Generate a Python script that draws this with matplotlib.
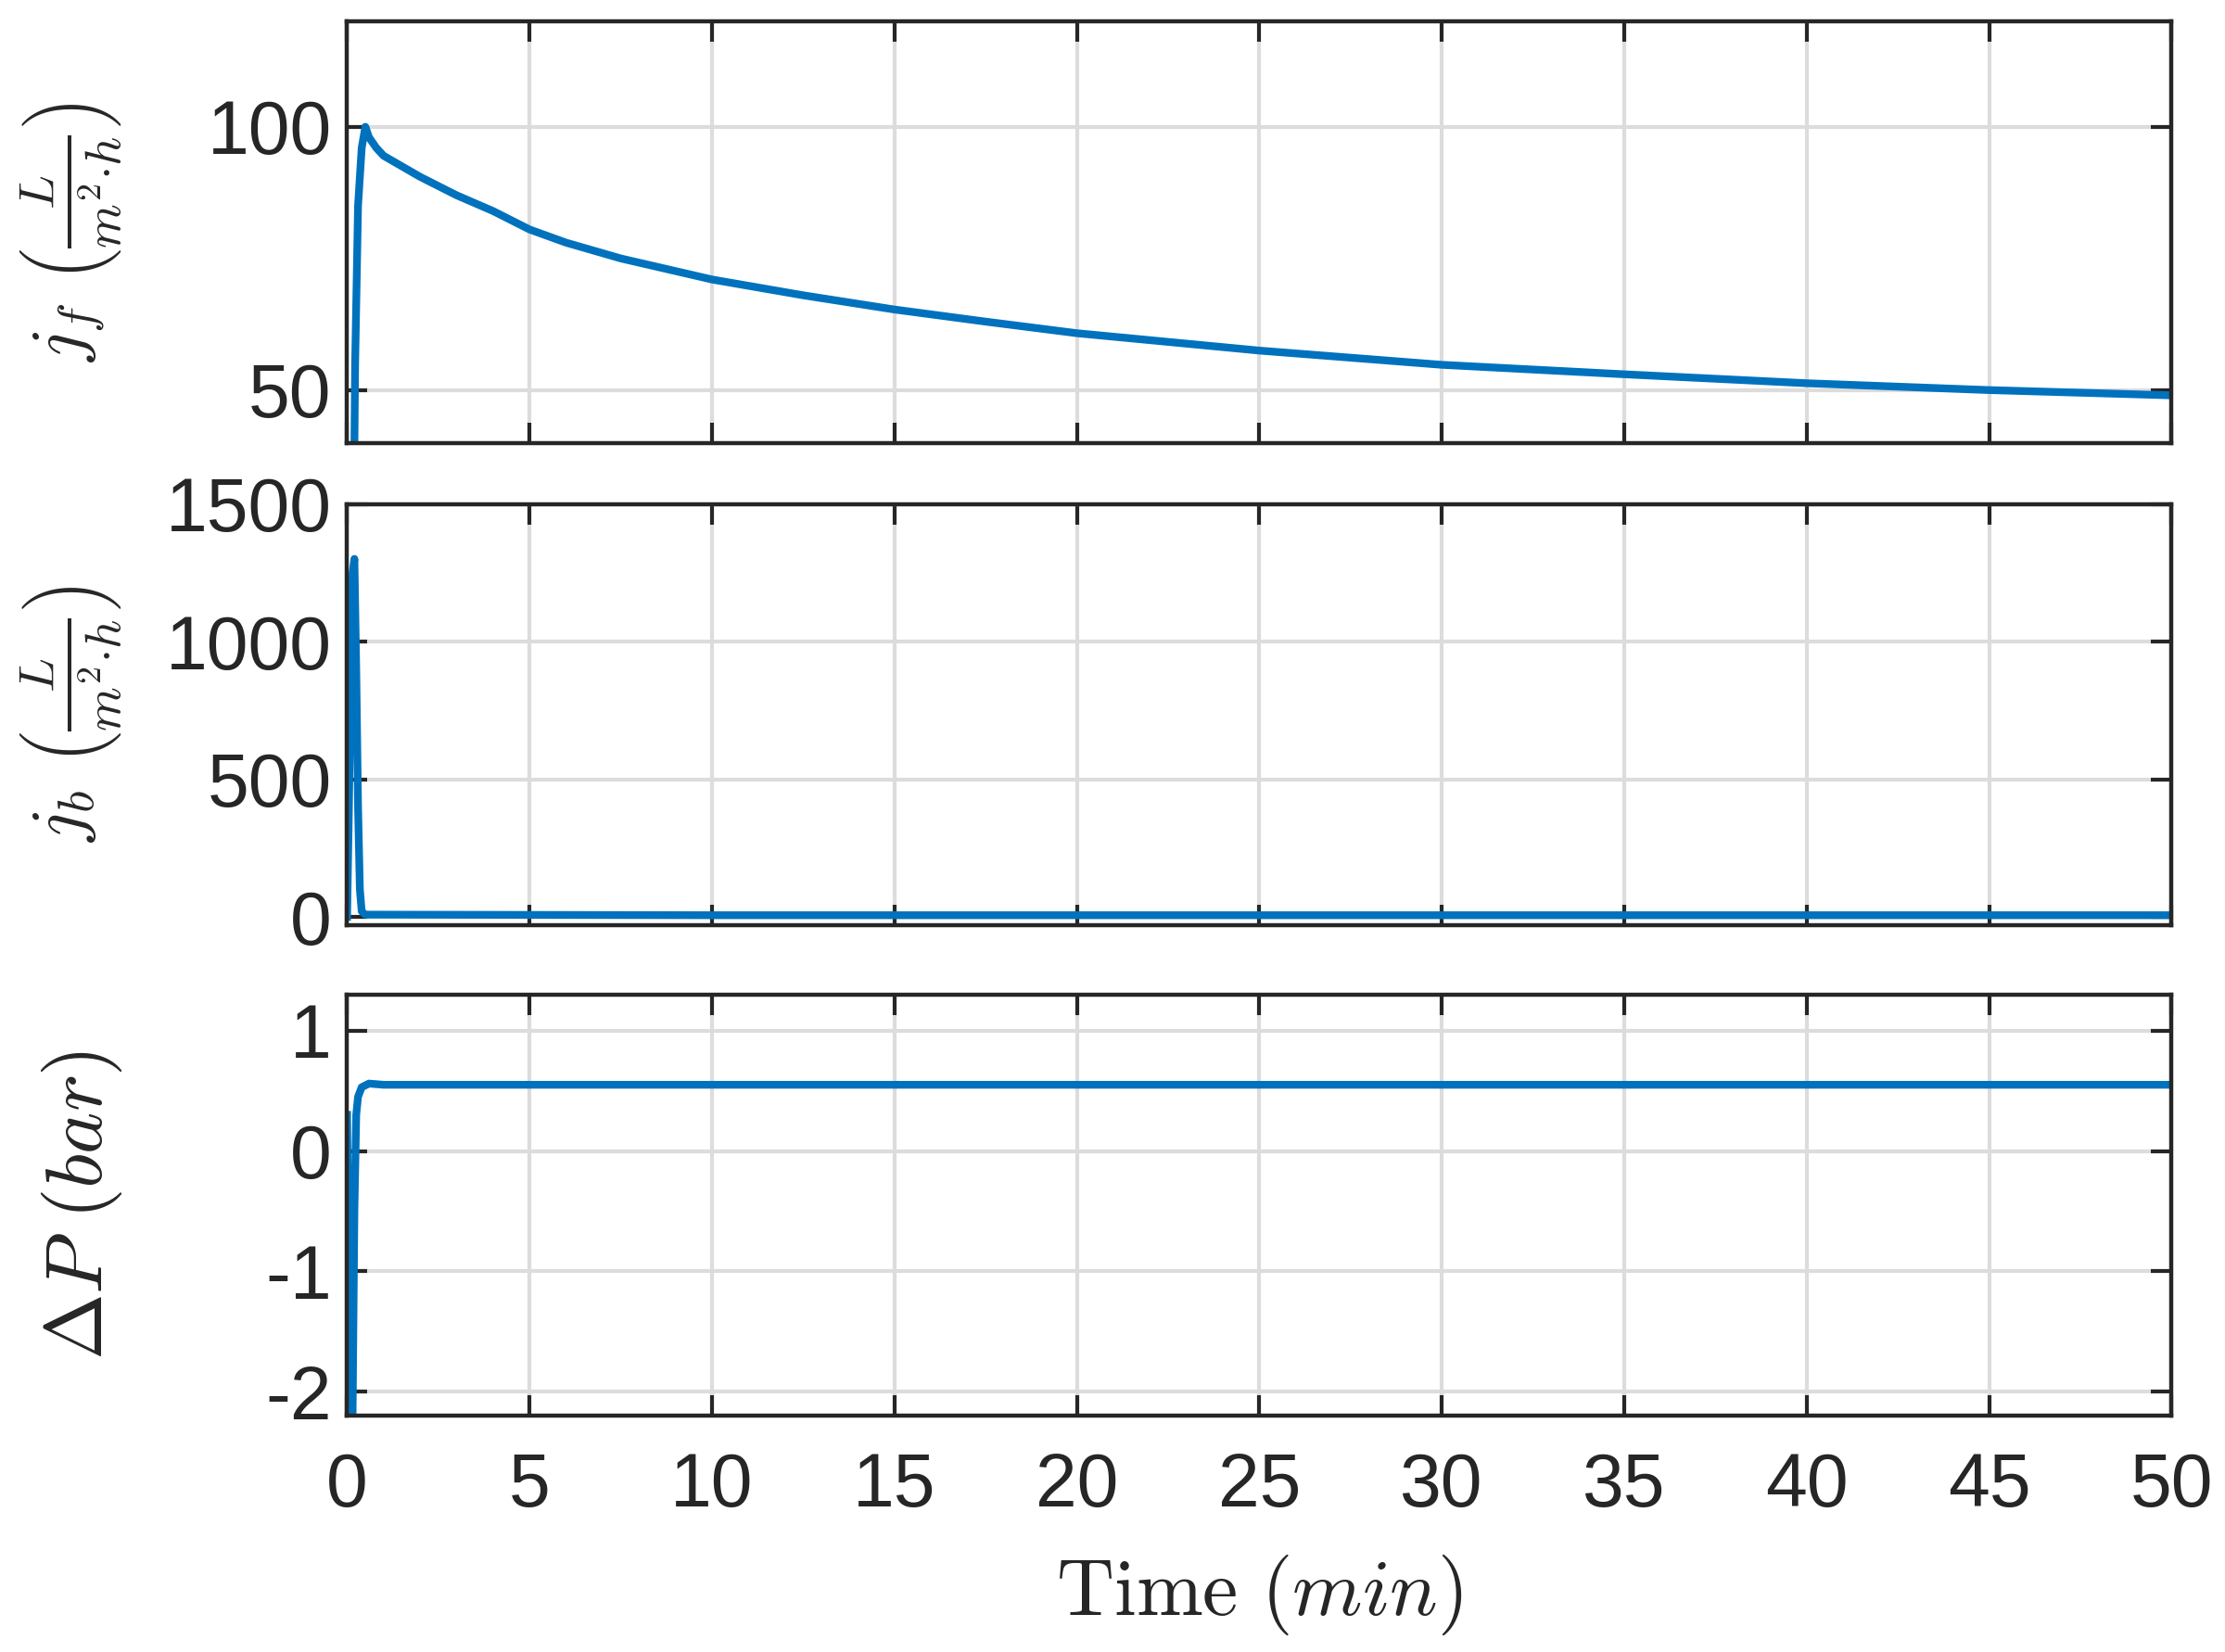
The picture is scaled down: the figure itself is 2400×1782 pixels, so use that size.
import matplotlib
matplotlib.use("Agg")
import matplotlib.pyplot as plt

plt.rcParams["mathtext.fontset"] = "cm"
plt.rcParams["font.family"] = "Liberation Sans"

t_jf = [0.0, 0.15, 0.22, 0.3, 0.4, 0.5, 0.6, 0.8, 1.0, 1.5, 2.0, 3.0, 4.0, 5.0, 6.0, 7.5, 10, 12.5, 15, 17.5, 20, 25, 30, 35, 40, 45, 50]
jf = [0, 0, 55, 85, 96, 100, 98, 96, 94.5, 92.5, 90.5, 87, 84, 80.5, 78, 75, 71, 68, 65.3, 63, 60.8, 57.5, 54.8, 53, 51.3, 50, 49]

t_jb = [0.0, 0.05, 0.1, 0.15, 0.2, 0.25, 0.3, 0.35, 0.4, 0.5, 1, 10, 20, 30, 40, 50]
jb = [0, 400, 900, 1250, 1300, 900, 400, 100, 20, 8, 8, 6, 6, 6, 6, 6]

t_dp = [0.0, 0.05, 0.1, 0.15, 0.2, 0.25, 0.3, 0.4, 0.6, 1, 10, 20, 30, 40, 50]
dp = [0.3, -1.5, -2.2, -2.2, -0.5, 0.3, 0.45, 0.53, 0.56, 0.55, 0.55, 0.55, 0.55, 0.55, 0.55]

xticks = list(range(0, 51, 5))
blue = "#0072BD"

fig = plt.figure(figsize=(12, 8.91), dpi=200)
L, W = 0.156, 0.820
axes = [fig.add_axes([L, 0.732, W, 0.255]),
        fig.add_axes([L, 0.440, W, 0.255]),
        fig.add_axes([L, 0.143, W, 0.255])]
data = [(t_jf, jf, (40, 120), [50, 100], r"$j_f\ \left(\frac{L}{m^2{\cdot}h}\right)$"),
        (t_jb, jb, (-30, 1500), [0, 500, 1000, 1500], r"$j_b\ \left(\frac{L}{m^2{\cdot}h}\right)$"),
        (t_dp, dp, (-2.2, 1.3), [-2, -1, 0, 1], r"$\Delta P\ (bar)$")]
for i, (ax, (t, y, yl, yt, lab)) in enumerate(zip(axes, data)):
    ax.plot(t, y, color=blue, lw=3.0)
    ax.set_xlim(0, 50)
    ax.set_ylim(*yl)
    ax.set_yticks(yt)
    ax.set_yticklabels([str(v) for v in yt])
    ax.set_xticks(xticks)
    ax.grid(True, color="#dcdcdc", lw=1.5)
    ax.set_axisbelow(True)
    ax.tick_params(direction="in", length=8, width=1.5, labelsize=29, colors="#262626",
                   top=True, right=True, pad=6)
    for s in ax.spines.values():
        s.set_linewidth(1.6)
        s.set_color("#262626")
    ax.set_ylabel(lab, fontsize=28 if i < 2 else 31, color="#262626")
    ax.yaxis.set_label_coords(-0.122, 0.5)
    if i < 2:
        ax.set_xticklabels([])
axes[2].set_xticklabels([str(v) for v in xticks])
axes[2].tick_params(axis="x", pad=14)
axes[2].set_xlabel(r"$\mathrm{Time}\ (min)$", fontsize=31, color="#262626", labelpad=12)
fig.savefig("out.png", dpi=200)
